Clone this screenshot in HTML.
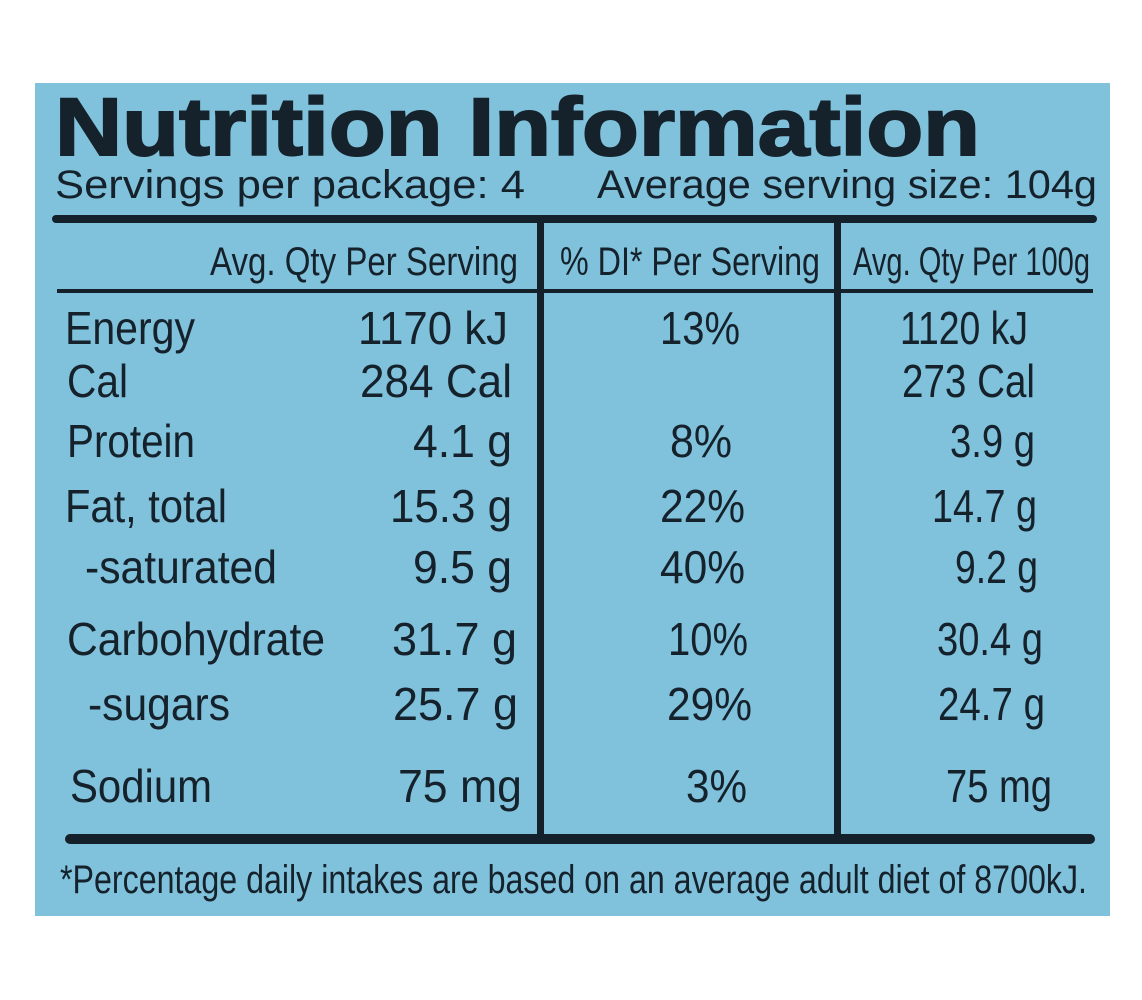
<!DOCTYPE html>
<html><head><meta charset="utf-8"><style>
html,body{margin:0;padding:0;background:#fff;}
svg{display:block}
text{font-family:"Liberation Sans",Arial,sans-serif;fill:#15222b}
</style></head><body>
<svg width="1142" height="1000" viewBox="0 0 1142 1000" xmlns="http://www.w3.org/2000/svg">
<rect x="0" y="0" width="1142" height="1000" fill="#fff"/>
<rect x="35" y="83" width="1075" height="833" fill="#80c1dc"/>
<g fill="#14202a">
<rect x="52" y="215" width="1045" height="8" rx="4"/>
<rect x="57" y="289" width="1036" height="4"/>
<rect x="537" y="218" width="7" height="620"/>
<rect x="834" y="218" width="7" height="620"/>
<rect x="65" y="834" width="1030" height="10" rx="5"/>
</g>
<text x="55" y="155" font-size="82" font-weight="bold" textLength="925" lengthAdjust="spacingAndGlyphs" stroke="#15222b" stroke-width="2">Nutrition Information</text>
<text x="55" y="198" font-size="40" textLength="470" lengthAdjust="spacingAndGlyphs">Servings per package: 4</text>
<text x="597" y="198" font-size="40" textLength="500" lengthAdjust="spacingAndGlyphs">Average serving size: 104g</text>
<text x="210" y="275" font-size="40" textLength="308" lengthAdjust="spacingAndGlyphs">Avg. Qty Per Serving</text>
<text x="560" y="275" font-size="40" textLength="260" lengthAdjust="spacingAndGlyphs">% DI* Per Serving</text>
<text x="853" y="275" font-size="40" textLength="237" lengthAdjust="spacingAndGlyphs">Avg. Qty Per 100g</text>
<g font-size="46">
<text x="65" y="344" textLength="130" lengthAdjust="spacingAndGlyphs">Energy</text>
<text x="358" y="344" textLength="150" lengthAdjust="spacingAndGlyphs">1170 kJ</text>
<text x="660" y="344" textLength="80" lengthAdjust="spacingAndGlyphs">13%</text>
<text x="900" y="344" textLength="128" lengthAdjust="spacingAndGlyphs">1120 kJ</text>

<text x="67" y="397" textLength="61" lengthAdjust="spacingAndGlyphs">Cal</text>
<text x="360" y="397" textLength="152" lengthAdjust="spacingAndGlyphs">284 Cal</text>
<text x="902" y="397" textLength="133" lengthAdjust="spacingAndGlyphs">273 Cal</text>

<text x="67" y="457" textLength="128" lengthAdjust="spacingAndGlyphs">Protein</text>
<text x="413" y="457" textLength="99" lengthAdjust="spacingAndGlyphs">4.1 g</text>
<text x="670" y="457" textLength="62" lengthAdjust="spacingAndGlyphs">8%</text>
<text x="950" y="457" textLength="85" lengthAdjust="spacingAndGlyphs">3.9 g</text>

<text x="65" y="522" textLength="162" lengthAdjust="spacingAndGlyphs">Fat, total</text>
<text x="390" y="522" textLength="122" lengthAdjust="spacingAndGlyphs">15.3 g</text>
<text x="660" y="522" textLength="85" lengthAdjust="spacingAndGlyphs">22%</text>
<text x="932" y="522" textLength="105" lengthAdjust="spacingAndGlyphs">14.7 g</text>

<text x="85" y="583" textLength="192" lengthAdjust="spacingAndGlyphs">-saturated</text>
<text x="413" y="583" textLength="99" lengthAdjust="spacingAndGlyphs">9.5 g</text>
<text x="660" y="583" textLength="85" lengthAdjust="spacingAndGlyphs">40%</text>
<text x="955" y="583" textLength="83" lengthAdjust="spacingAndGlyphs">9.2 g</text>

<text x="67" y="655" textLength="258" lengthAdjust="spacingAndGlyphs">Carbohydrate</text>
<text x="392" y="655" textLength="125" lengthAdjust="spacingAndGlyphs">31.7 g</text>
<text x="668" y="655" textLength="80" lengthAdjust="spacingAndGlyphs">10%</text>
<text x="937" y="655" textLength="106" lengthAdjust="spacingAndGlyphs">30.4 g</text>

<text x="88" y="720" textLength="142" lengthAdjust="spacingAndGlyphs">-sugars</text>
<text x="393" y="720" textLength="125" lengthAdjust="spacingAndGlyphs">25.7 g</text>
<text x="667" y="720" textLength="85" lengthAdjust="spacingAndGlyphs">29%</text>
<text x="938" y="720" textLength="107" lengthAdjust="spacingAndGlyphs">24.7 g</text>

<text x="70" y="802" textLength="142" lengthAdjust="spacingAndGlyphs">Sodium</text>
<text x="398" y="802" textLength="124" lengthAdjust="spacingAndGlyphs">75 mg</text>
<text x="686" y="802" textLength="61" lengthAdjust="spacingAndGlyphs">3%</text>
<text x="946" y="802" textLength="106" lengthAdjust="spacingAndGlyphs">75 mg</text>
</g>
<text x="60" y="893" font-size="40" textLength="1027" lengthAdjust="spacingAndGlyphs">*Percentage daily intakes are based on an average adult diet of 8700kJ.</text>
</svg>
</body></html>
